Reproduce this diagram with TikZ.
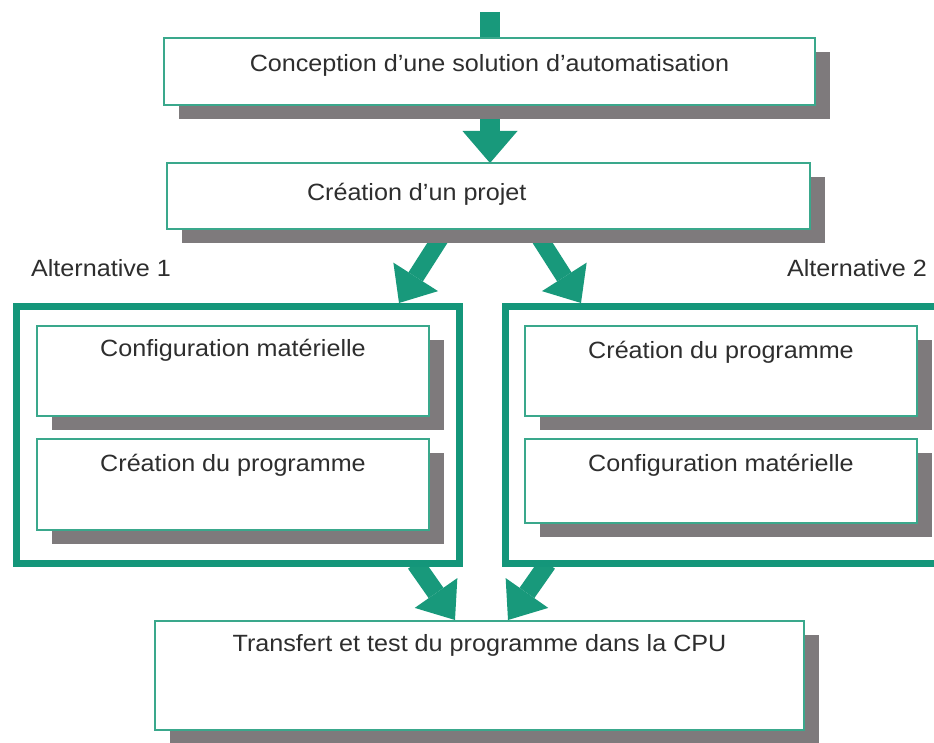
\documentclass[tikz,border=0pt]{standalone}
\usepackage{fontspec}
\setmainfont{Liberation Sans}[FakeStretch=1.07]
\usetikzlibrary{arrows.meta,shadows}

\definecolor{flowgreen}{HTML}{18997B}
\definecolor{framegreen}{HTML}{14967A}
\definecolor{boxline}{HTML}{3AA88C}
\definecolor{shade}{HTML}{7E7A7C}
\definecolor{ink}{HTML}{2E2E2E}

\pgfdeclarelayer{bg}
\pgfsetlayers{bg,main}

\begin{document}
\begin{tikzpicture}[x=1pt,y=-1pt,
  txt/.style={text=ink, font=\fontsize{23.5}{28}\selectfont},
  stepbox/.style={txt, draw=boxline, line width=1.5pt, fill=white,
    anchor=north west, inner sep=0pt, outer sep=0pt,
    general shadow={fill=shade, shadow xshift=15pt, shadow yshift=-14pt}},
  group/.style={draw=framegreen, line width=7pt, fill=white,
    anchor=north west, inner sep=0pt, outer sep=0pt},
  flow/.style={draw=flowgreen, line width=#1, line cap=butt},
  head/.style 2 args={-{Triangle[length=#1, width=#2, line width=0pt]}}]

\clip (0,0) rectangle (934,743);

% two alternative groups
\node[group, minimum width=443pt, minimum height=257pt] (alt1) at (16.5,306.5) {};
\node[group, minimum width=460pt, minimum height=257pt] (alt2) at (505.5,306.5) {};

% main steps
\node[stepbox, minimum width=651pt, minimum height=67pt,
      text height=33.4pt, text depth=33.6pt] (concept) at (164,38)
      {Conception d’une solution d’automatisation};
\node[stepbox, minimum width=643pt, minimum height=66pt,
      text height=37.4pt, text depth=28.6pt] (projet) at (167,163)
      {\makebox[643pt][l]{\hspace{140pt}Création d’un projet}};

% alternative 1
\node[stepbox, minimum width=392pt, minimum height=90pt,
      text height=30.4pt, text depth=59.6pt] (hw1) at (37,326)
      {Configuration matérielle};
\node[stepbox, minimum width=392pt, minimum height=91pt,
      text height=32.4pt, text depth=58.6pt] (prog1) at (37,439)
      {Création du programme};

% alternative 2
\node[stepbox, minimum width=392pt, minimum height=90pt,
      text height=32.4pt, text depth=57.6pt] (prog2) at (525,326)
      {Création du programme};
\node[stepbox, minimum width=392pt, minimum height=84pt,
      text height=32.4pt, text depth=51.6pt] (hw2) at (525,439)
      {Configuration matérielle};

% final step
\node[stepbox, minimum width=649pt, minimum height=109pt,
      text height=30.4pt, text depth=78.6pt] (cpu) at (155,621)
      {Transfert et test du programme dans la CPU};

\node[txt] (lab1) at (101,268) {Alternative 1};
\node[txt] (lab2) at (857,268) {Alternative 2};

% connector end points
\coordinate (entry) at (490,12);
\coordinate (s1) at (446.9,228);
\coordinate (t1) at (399,303);
\coordinate (s2) at (533.1,228);
\coordinate (t2) at (581,303);
\coordinate (s3) at (415.4,563.5);
\coordinate (t3) at (455,620);
\coordinate (s4) at (547.6,563.5);
\coordinate (t4) at (508,620);

\begin{pgfonlayer}{bg}
  \fill[white] (0,0) rectangle (934,743);
  \draw[flow=20pt] (entry) -- (entry |- concept.north);
  \draw[flow=20pt, head={32pt}{55pt}] (entry |- concept.south) -- (entry |- projet.north);
  \draw[flow=17pt, head={31pt}{53pt}] (s1) -- (t1);
  \draw[flow=17pt, head={31pt}{53pt}] (s2) -- (t2);
  \draw[flow=18pt, head={33pt}{52pt}] (s3) -- (t3);
  \draw[flow=18pt, head={33pt}{52pt}] (s4) -- (t4);
\end{pgfonlayer}
\end{tikzpicture}
\end{document}
